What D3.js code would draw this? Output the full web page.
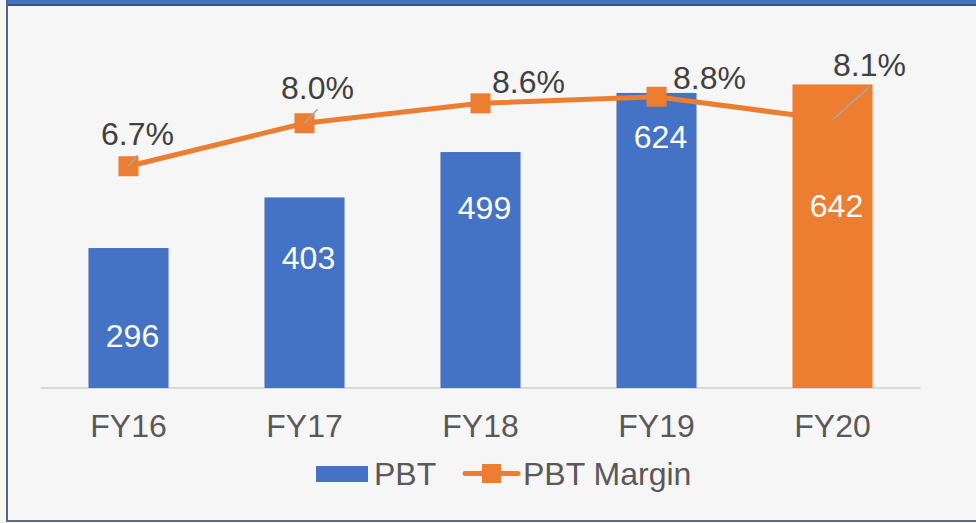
<!DOCTYPE html>
<html>
<head>
<meta charset="utf-8">
<script src="https://cdn.jsdelivr.net/npm/d3@7/dist/d3.min.js"></script>
<style>
  html, body { margin: 0; padding: 0; background: #f6f6f6; }
  svg { display: block; }
  text { font-family: "Liberation Sans", Arial, sans-serif; }
</style>
</head>
<body>
<svg id="chart" width="976" height="523"></svg>
<script>
// ---- data ----
const categories = ["FY16", "FY17", "FY18", "FY19", "FY20"];
const pbt = [296, 403, 499, 624, 642];
const pbtMargin = [6.7, 8.0, 8.6, 8.8, 8.1];
const marginLabels = ["6.7%", "8.0%", "8.6%", "8.8%", "8.1%"];
const seriesNames = ["PBT", "PBT Margin"];

// ---- layout (positions/styles) ----
const blue = "#4472C4", orange = "#ED7D31";
const barColors = [blue, blue, blue, blue, orange];
const pctLabelOffset = [[9, -33], [13, -36], [48, -22], [53, -19], [37, -55]];
const valueLabelFromTop = [87, 60, 55, 44, 121];

const W = 976, H = 523;
const svg = d3.select("#chart");

// background + frame
svg.append("rect").attr("x", 0).attr("y", 0).attr("width", W).attr("height", H).attr("fill", "#f6f6f6");

const x = d3.scaleBand().domain(categories).range([40.5, 920.5])
  .paddingInner(0.545).paddingOuter(0.2725);
const y = d3.scaleLinear().domain([0, 700]).range([388, 57]);
const y2 = d3.scaleLinear().domain([0, 10]).range([388, 57]);

// baseline axis
const axis = d3.axisBottom(x).tickSize(0).tickPadding(0);
const gx = svg.append("g").attr("transform", "translate(0,388)").call(axis);
gx.select(".domain").attr("stroke", "#d9d9d9").attr("stroke-width", 2)
  .attr("d", "M40.5,0H920.5");
gx.selectAll(".tick text").attr("dy", 0).attr("y", 49)
  .attr("font-size", 32).attr("fill", "#595959")
  .attr("font-family", "Liberation Sans, Arial, sans-serif");

// bars
svg.append("g").selectAll("rect").data(pbt).join("rect")
  .attr("x", (d, i) => x(categories[i]))
  .attr("y", d => y(d))
  .attr("width", x.bandwidth())
  .attr("height", d => y(0) - y(d))
  .attr("fill", (d, i) => barColors[i]);

// bar value labels
svg.append("g").selectAll("text").data(pbt).join("text")
  .attr("x", (d, i) => x(categories[i]) + x.bandwidth() / 2 + 4)
  .attr("y", (d, i) => y(d) + valueLabelFromTop[i])
  .attr("dy", "0.36em")
  .attr("text-anchor", "middle")
  .attr("font-size", 32).attr("fill", "#ffffff")
  .text(d => d);

// line
const cx = i => x(categories[i]) + x.bandwidth() / 2;
const line = d3.line().x((d, i) => cx(i)).y(d => y2(d));
svg.append("path").datum(pbtMargin)
  .attr("d", line).attr("fill", "none")
  .attr("stroke", orange).attr("stroke-width", 5).attr("stroke-linejoin", "round");

// markers
svg.append("g").selectAll("rect").data(pbtMargin).join("rect")
  .attr("x", (d, i) => cx(i) - 10).attr("y", d => y2(d) - 10)
  .attr("width", 20).attr("height", 20).attr("fill", orange);

// leader lines
svg.append("g").selectAll("line").data(pbtMargin).join("line")
  .filter((d, i) => pctLabelOffset[i][1] < -30)
  .attr("x1", (d, i) => cx(pbtMargin.indexOf(d)))
  .attr("y1", d => y2(d))
  .attr("x2", (d) => { const i = pbtMargin.indexOf(d); return cx(i) + pctLabelOffset[i][0]; })
  .attr("y2", (d) => { const i = pbtMargin.indexOf(d); return y2(d) + pctLabelOffset[i][1] + 22; })
  .attr("stroke", "#a6a6a6").attr("stroke-width", 1.5);

// percent labels
svg.append("g").selectAll("text").data(pbtMargin).join("text")
  .attr("x", (d, i) => cx(i) + pctLabelOffset[i][0])
  .attr("y", (d, i) => y2(d) + pctLabelOffset[i][1])
  .attr("dy", "0.36em")
  .attr("text-anchor", "middle")
  .attr("font-size", 32).attr("fill", "#404040")
  .text((d, i) => marginLabels[i]);

// legend
const lg = svg.append("g");
lg.append("rect").attr("x", 316).attr("y", 466).attr("width", 52).attr("height", 16).attr("fill", blue);
lg.append("text").attr("x", 374).attr("y", 485).attr("font-size", 32).attr("fill", "#595959").text(seriesNames[0]);
lg.append("line").attr("x1", 465).attr("x2", 518).attr("y1", 473.5).attr("y2", 473.5)
  .attr("stroke", orange).attr("stroke-width", 5).attr("stroke-linecap", "round");
lg.append("rect").attr("x", 482).attr("y", 464).attr("width", 19).attr("height", 19).attr("fill", orange);
lg.append("text").attr("x", 523).attr("y", 485).attr("font-size", 32).attr("fill", "#595959").text(seriesNames[1]);

// frame
svg.append("rect").attr("x", 0).attr("y", 0).attr("width", W).attr("height", 4).attr("fill", "#4472C4");
svg.append("rect").attr("x", 0).attr("y", 4).attr("width", W).attr("height", 2).attr("fill", "#3b5583");
svg.append("rect").attr("x", 0).attr("y", 0).attr("width", 6).attr("height", H).attr("fill", "#f6f6f6");
svg.append("rect").attr("x", 6).attr("y", 0).attr("width", 2).attr("height", 522).attr("fill", "#56657c");
svg.append("rect").attr("x", 6).attr("y", 520).attr("width", W).attr("height", 2).attr("fill", "#5c6b82");
</script>
</body>
</html>
